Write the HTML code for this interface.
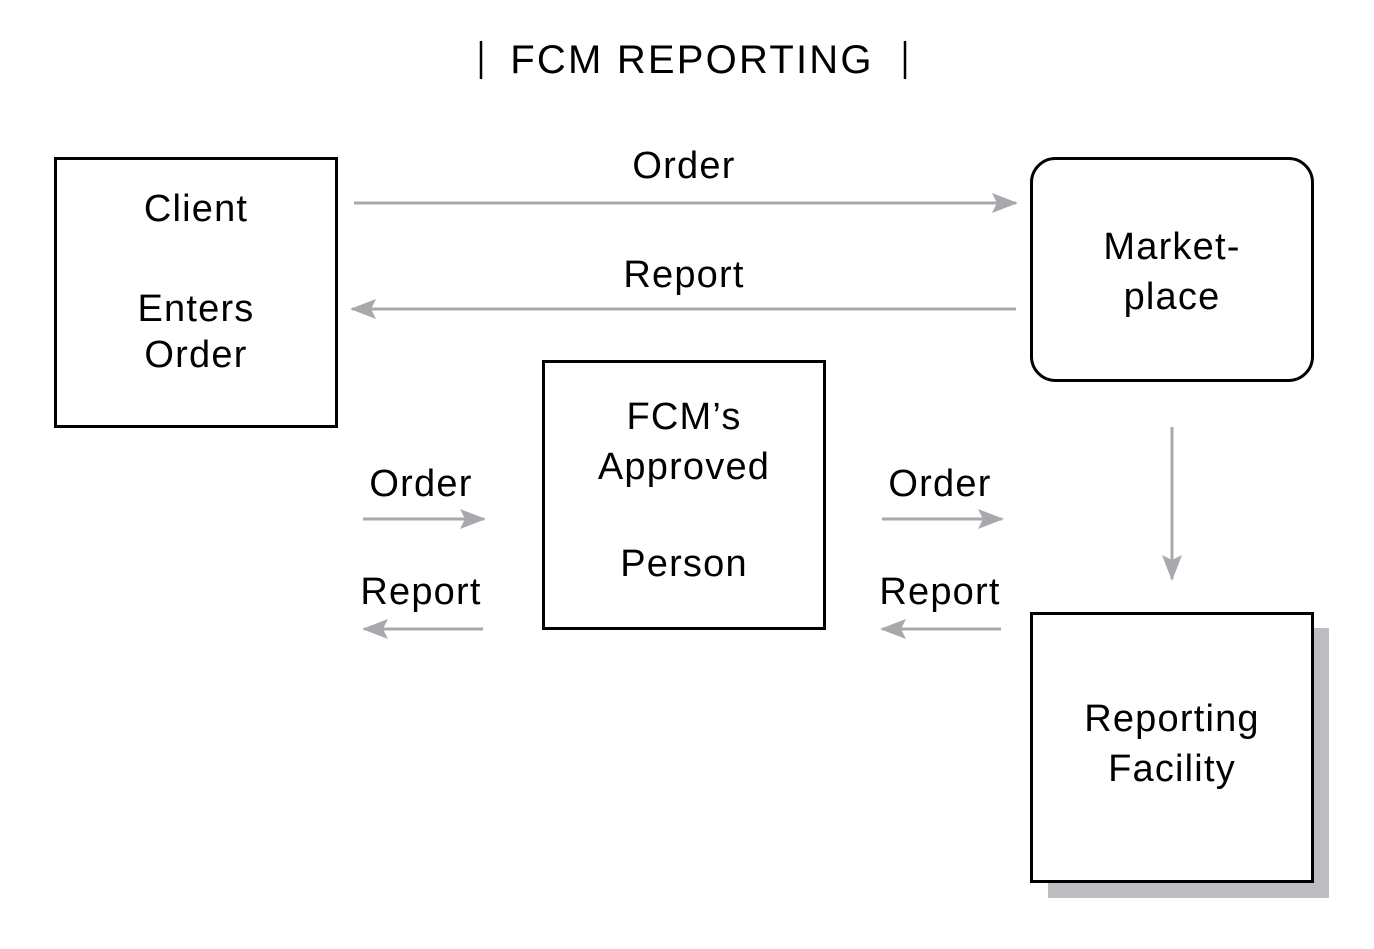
<!DOCTYPE html>
<html><head><meta charset="utf-8"><style>
html,body{margin:0;padding:0;background:#fff;}
svg{display:block;}
text{font-family:"Liberation Sans",sans-serif;font-size:38px;fill:#000;text-anchor:middle;letter-spacing:1.2px;}
</style></head><body>
<svg width="1374" height="949" viewBox="0 0 1374 949" xmlns="http://www.w3.org/2000/svg">
<defs>
<marker id="ah" viewBox="0 0 26 20" refX="24" refY="10" markerWidth="26" markerHeight="20" markerUnits="userSpaceOnUse" orient="auto">
<path d="M0,0 L26,10 L0,20 L5,10 Z" fill="#a7a9ac"/>
</marker>
</defs>
<line x1="481" y1="41" x2="481" y2="79" stroke="#000" stroke-width="2.5"/>
<line x1="905" y1="41" x2="905" y2="79" stroke="#000" stroke-width="2.5"/>
<text x="692" y="73" style="font-size:40px;letter-spacing:2.2px">FCM REPORTING</text>
<!-- Client -->
<rect x="55.5" y="158.5" width="281" height="268" fill="#fff" stroke="#000" stroke-width="3"/>
<text x="196" y="221">Client</text>
<text x="196" y="321">Enters</text>
<text x="196" y="367">Order</text>
<!-- Marketplace -->
<rect x="1031.5" y="158.5" width="281" height="222" rx="24" fill="#fff" stroke="#000" stroke-width="3"/>
<text x="1172" y="259">Market-</text>
<text x="1172" y="309">place</text>
<!-- FCM -->
<rect x="543.5" y="361.5" width="281" height="267" fill="#fff" stroke="#000" stroke-width="3"/>
<text x="684" y="429">FCM’s</text>
<text x="684" y="479">Approved</text>
<text x="684" y="576">Person</text>
<!-- Reporting Facility -->
<rect x="1048" y="628" width="281" height="270" fill="#bcbdc0"/>
<rect x="1031.5" y="613.5" width="281" height="268" fill="#fff" stroke="#000" stroke-width="3"/>
<text x="1172" y="731">Reporting</text>
<text x="1172" y="781">Facility</text>
<!-- arrows -->
<g stroke="#a7a9ac" stroke-width="3" fill="none">
<line x1="354" y1="203" x2="1016" y2="203" marker-end="url(#ah)"/>
<line x1="1016" y1="309" x2="352" y2="309" marker-end="url(#ah)"/>
<line x1="363" y1="519" x2="484" y2="519" marker-end="url(#ah)"/>
<line x1="483" y1="629" x2="364" y2="629" marker-end="url(#ah)"/>
<line x1="882" y1="519" x2="1002" y2="519" marker-end="url(#ah)"/>
<line x1="1001" y1="629" x2="882" y2="629" marker-end="url(#ah)"/>
<line x1="1172" y1="427" x2="1172" y2="579" marker-end="url(#ah)"/>
</g>
<text x="684" y="178">Order</text>
<text x="684" y="287">Report</text>
<text x="421" y="496">Order</text>
<text x="421" y="604">Report</text>
<text x="940" y="496">Order</text>
<text x="940" y="604">Report</text>
</svg>
</body></html>
